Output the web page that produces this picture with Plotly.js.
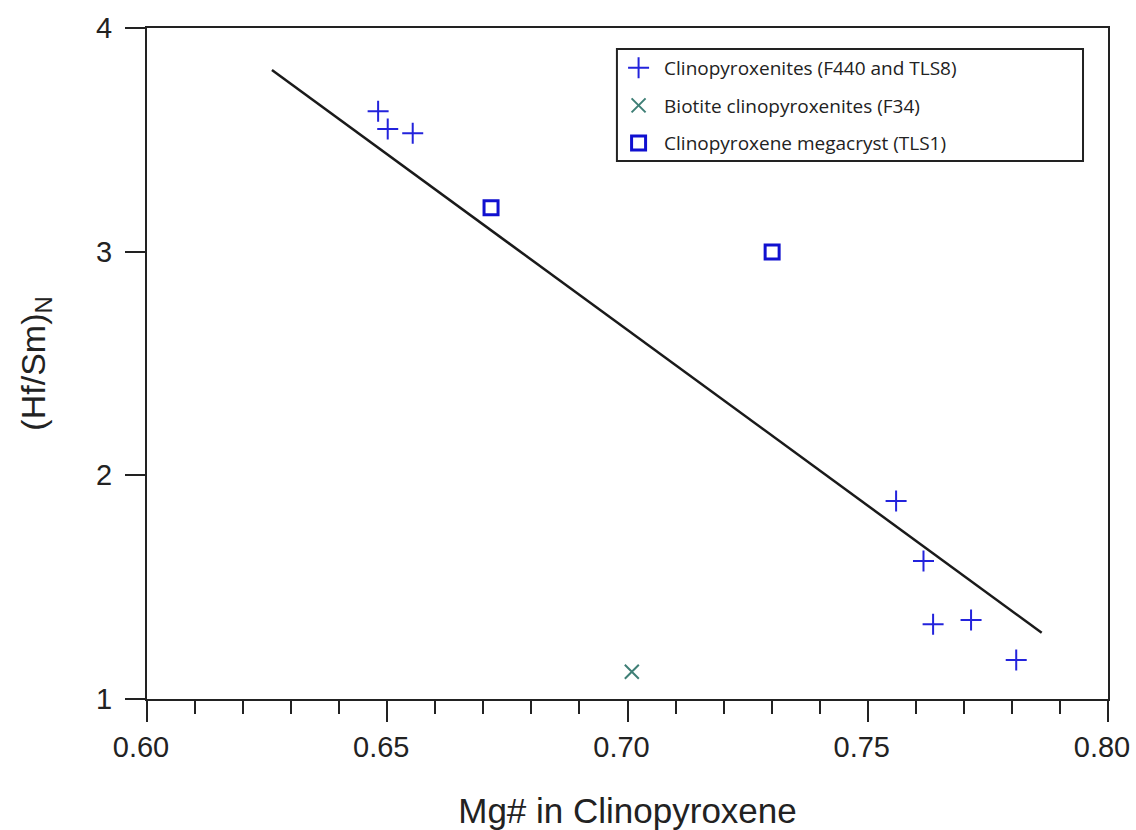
<!DOCTYPE html>
<html>
<head>
<meta charset="utf-8">
<script src="https://cdn.plot.ly/plotly-3.0.1.min.js"></script>
<style>html,body{margin:0;padding:0;background:#fff;}#chart{width:1136px;height:830px;}</style>
</head>
<body>
<div id="chart"></div>
<script>
// Clinopyroxenites (F440 and TLS8)
var cpxX = [0.6481, 0.6501, 0.6553, 0.7559, 0.7616, 0.7636, 0.7715, 0.7809];
var cpxY = [3.628, 3.548, 3.529, 1.885, 1.617, 1.334, 1.353, 1.174];
// Biotite clinopyroxenites (F34)
var bioX = [0.7009];
var bioY = [1.122];
// Clinopyroxene megacryst (TLS1)
var megaX = [0.6716, 0.7301];
var megaY = [3.196, 2.999];
// Regression line
var fitX = [0.6260, 0.7862];
var fitY = [3.812, 1.296];

var names = ["Clinopyroxenites (F440 and TLS8)", "Biotite clinopyroxenites (F34)", "Clinopyroxene megacryst (TLS1)"];
var xTicks = [0.60, 0.65, 0.70, 0.75, 0.80];
var xTickText = ["0.60", "0.65", "0.70", "0.75", "0.80"];
var yTicks = [1, 2, 3, 4];

var traces = [
  {x: fitX, y: fitY, mode: "lines", type: "scatter", showlegend: false,
   line: {color: "#1a1a1a", width: 2.5}, hoverinfo: "skip"},
  {x: cpxX, y: cpxY, mode: "markers", type: "scatter", name: names[0], legendgroup: "a",
   marker: {symbol: "cross-thin-open", size: 15, color: "#2323dc", line: {color: "#2323dc", width: 2}}},
  {x: bioX, y: bioY, mode: "markers", type: "scatter", name: names[1], legendgroup: "b",
   marker: {symbol: "x-thin-open", size: 14, color: "#3f7f76", line: {color: "#3f7f76", width: 2}}},
  {x: megaX, y: megaY, mode: "markers", type: "scatter", name: names[2], legendgroup: "c",
   marker: {symbol: "square-open", size: 14, color: "#1010d0", line: {color: "#1010d0", width: 3}}}
];

var tickFont = {family: "Liberation Sans, Arial, sans-serif", size: 29, color: "#222"};

var layout = {
  width: 1136, height: 830,
  margin: {l: 147, r: 28, t: 28, b: 131},
  paper_bgcolor: "#fff", plot_bgcolor: "#fff",
  showlegend: true,
  legend: {
    x: 0.485, y: 0.969, xanchor: "left", yanchor: "top",
    bgcolor: "rgba(0,0,0,0)", borderwidth: 0,
    font: {family: "Open Sans, Noto Sans, sans-serif", size: 19, color: "#222"},
    traceorder: "grouped", tracegroupgap: 10, itemwidth: 41
  },
  shapes: [
    {type: "rect", xref: "paper", yref: "paper", x0: 0.489, x1: 0.974, y0: 0.8018, y1: 0.9687,
     line: {color: "#222", width: 2}, fillcolor: "#fff", layer: "below"}
  ],
  xaxis: {
    range: [0.6, 0.8], tickmode: "array", tickvals: xTicks, ticktext: xTickText,
    ticks: "outside", ticklen: 21, tickwidth: 2, tickcolor: "#222",
    minor: {dtick: 0.01, tick0: 0.6, ticks: "outside", ticklen: 13, tickwidth: 2, tickcolor: "#222", showgrid: false},
    showline: true, mirror: true, linewidth: 2, linecolor: "#222",
    showgrid: false, zeroline: false, tickfont: tickFont, ticklabelshift: -6,
    title: {text: "Mg# in Clinopyroxene", font: {family: "Liberation Sans, Arial, sans-serif", size: 35, color: "#222"}, standoff: 37}
  },
  yaxis: {
    range: [1, 4], tickmode: "array", tickvals: yTicks,
    ticks: "outside", ticklen: 20, tickwidth: 2, tickcolor: "#222",
    showline: true, mirror: true, linewidth: 2, linecolor: "#222",
    showgrid: false, zeroline: false, tickfont: tickFont, ticklabelstandoff: 7,
    title: {text: "(Hf/Sm)<sub>N</sub>", font: {family: "Liberation Sans, Arial, sans-serif", size: 34, color: "#222"}, standoff: 40}
  }
};

Plotly.newPlot("chart", traces, layout, {displayModeBar: false, staticPlot: true});
</script>
</body>
</html>
